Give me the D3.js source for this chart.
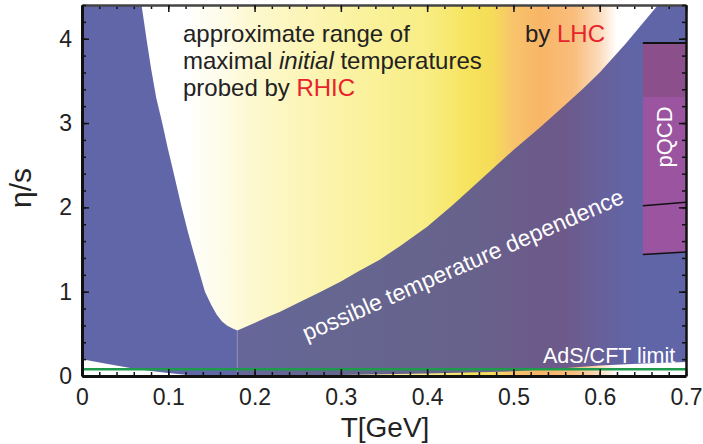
<!DOCTYPE html>
<html><head><meta charset="utf-8">
<script src="https://cdn.jsdelivr.net/npm/d3@7"></script>
<style>
body{margin:0;background:#fff;}
svg{display:block;}
text{font-family:"Liberation Sans",Arial,sans-serif;}
</style></head>
<body><svg id="c" width="703" height="444"></svg>
<script>
// ---- data ----
const upperT   = [0, 0.069, 0.075, 0.08, 0.086, 0.093, 0.099, 0.105, 0.1155, 0.123, 0.13, 0.1425, 0.15, 0.156, 0.162, 0.168, 0.174, 0.18, 0.19, 0.2, 0.215, 0.229, 0.253, 0.275, 0.3, 0.32, 0.345, 0.37, 0.4, 0.43, 0.461, 0.5, 0.53, 0.554, 0.58, 0.6, 0.63, 0.6675, 0.7];
const upperEta = [4.4, 4.4, 3.98, 3.65, 3.3, 3.0, 2.72, 2.46, 2.0, 1.7, 1.44, 1.0, 0.84, 0.73, 0.65, 0.6, 0.565, 0.54, 0.585, 0.63, 0.7, 0.76, 0.88, 0.99, 1.12, 1.24, 1.38, 1.55, 1.77, 2.03, 2.32, 2.68, 2.94, 3.16, 3.4, 3.6, 3.94, 4.4, 4.4];
const lowerT   = [0, 0.025, 0.056, 0.08, 0.1, 0.12, 0.145, 0.25, 0.3, 0.4, 0.5, 0.55, 0.6, 0.65, 0.7];
const lowerEta = [0.2, 0.15, 0.095, 0.06, 0.035, 0.015, 0, 0, 0.012, 0.03, 0.055, 0.085, 0.125, 0.148, 0.165];
const adsLimit = 1 / (4 * Math.PI);
const minT = 0.18, minEta = 0.54;
const pqcdT   = [0.65, 0.7];
const pqcdTop = [3.95, 3.95];
const pqcdDark = [3.31, 3.31];
const pqcdMid = [2.02, 2.06];
const pqcdLow = [1.44, 1.47];
const xTicks = [0, 0.1, 0.2, 0.3, 0.4, 0.5, 0.6, 0.7];
const xTickLabels = ["0", "0.1", "0.2", "0.3", "0.4", "0.5", "0.6", "0.7"];
const yTicks = [0, 1, 2, 3, 4];
const yTickLabels = ["0", "1", "2", "3", "4"];
const xMinor = d3.range(0, 0.7001, 0.02);
const yMinor = d3.range(0, 4.4001, 0.2);
// colour stops (T position, colour)
const overlayStops = [[0,"#ffffff"],[0.12,"#ffffff"],[0.16,"#fefcea"],[0.2,"#fdf8cf"],[0.3,"#fbf3a6"],[0.4,"#f8ed84"],[0.45,"#f6e35c"],[0.475,"#f5dc58"],[0.5,"#f8c46c"],[0.53,"#f8b566"],[0.57,"#f9bd7c"],[0.6,"#fcdcbc"],[0.62,"#ffffff"],[0.7,"#ffffff"]];
const bandStops = [[0,"#6166a8"],[0.1799,"#6166a8"],[0.1801,"#66669a"],[0.3,"#666690"],[0.45,"#67628c"],[0.53,"#6c5a8a"],[0.56,"#6d5a8b"],[0.6,"#67609a"],[0.64,"#6065a8"],[0.7,"#6065a8"]];

// ---- layout ----
const svg = d3.select("#c");
const L = 82, R = 686, Tp = 5, B = 376;
const x = d3.scaleLinear().domain([0, 0.7]).range([L, R]);
const y = d3.scaleLinear().domain([0, 4.4]).range([B, Tp]);

const defs = svg.append("defs");
defs.append("clipPath").attr("id","clip").append("rect")
  .attr("x",L).attr("y",Tp).attr("width",R-L).attr("height",B-Tp);
function grad(id, stops){
  const g = defs.append("linearGradient").attr("id",id)
    .attr("gradientUnits","userSpaceOnUse")
    .attr("x1",x(0)).attr("x2",x(0.7)).attr("y1",0).attr("y2",0);
  stops.forEach(s=>g.append("stop").attr("offset",s[0]/0.7).attr("stop-color",s[1]));
}
grad("ov", overlayStops);
grad("band", bandStops);

const plot = svg.append("g").attr("clip-path","url(#clip)");
plot.append("rect").attr("x",x(0)).attr("y",y(4.4)).attr("width",x(0.7)-x(0)).attr("height",y(0)-y(4.4)).attr("fill","url(#ov)");

const upperPts = upperT.map((t,i)=>[t, upperEta[i]]);
const lowerPts = lowerT.map((t,i)=>[t, lowerEta[i]]).reverse();
const line = d3.line().x(d=>x(d[0])).y(d=>y(d[1]));
plot.append("path").attr("d", line(upperPts.concat(lowerPts)) + "Z").attr("fill","url(#band)");

// vertical guide at minimum
plot.append("line").attr("x1",x(minT)).attr("x2",x(minT)).attr("y1",y(minEta)).attr("y2",y(0))
  .attr("stroke","rgba(255,255,255,0.3)").attr("stroke-width",1);

// AdS/CFT line
plot.append("line").attr("x1",x(0)).attr("x2",x(0.7)).attr("y1",y(adsLimit)).attr("y2",y(adsLimit))
  .attr("stroke","#1f9a4c").attr("stroke-width",2.5);

// pQCD box
const pq = pqcdT.map((t,i)=>({t, top:pqcdTop[i], dark:pqcdDark[i], mid:pqcdMid[i], low:pqcdLow[i]}));
const area = (a,b)=>d3.area().x(d=>x(d.t)).y0(d=>y(d[a])).y1(d=>y(d[b]));
plot.append("path").attr("d", area("low","dark")(pq)).attr("fill","#9b55a0");
plot.append("path").attr("d", area("dark","top")(pq)).attr("fill","#8b4f8b");
["top","mid","low"].forEach(k=>{
  plot.append("path").attr("d", d3.line().x(d=>x(d.t)).y(d=>y(d[k]))(pq))
    .attr("stroke","#111").attr("stroke-width", k==="top"?2:1.5).attr("fill","none");
});

// ---- axes ----
function styleAxis(g, w, col){
  g.select(".domain").attr("stroke", col).attr("stroke-width", w);
  g.selectAll(".tick line").attr("stroke","#111").attr("stroke-width",1.5);
}
// bottom
const gxm = svg.append("g").attr("transform",`translate(0,${B})`)
  .call(d3.axisBottom(x).tickValues(xMinor).tickSize(-4).tickFormat(""));
gxm.select(".domain").remove(); gxm.selectAll(".tick line").attr("stroke","#111").attr("stroke-width",1.5);
const gx = svg.append("g").attr("transform",`translate(0,${B})`)
  .call(d3.axisBottom(x).tickValues(xTicks).tickSize(-7).tickSizeOuter(0).tickPadding(13)
    .tickFormat((d,i)=>xTickLabels[i]));
styleAxis(gx, 3, "#111");
gx.selectAll("text").attr("font-size",23).attr("fill","#222").attr("font-family","Liberation Sans, Arial, sans-serif");
// top
const gtm = svg.append("g").attr("transform",`translate(0,${Tp})`)
  .call(d3.axisTop(x).tickValues(xMinor).tickSize(-4).tickFormat(""));
gtm.select(".domain").remove(); gtm.selectAll(".tick line").attr("stroke","#111").attr("stroke-width",1.5);
const gt = svg.append("g").attr("transform",`translate(0,${Tp})`)
  .call(d3.axisTop(x).tickValues(xTicks).tickSize(-7).tickSizeOuter(0).tickFormat(""));
styleAxis(gt, 2.5, "#444");
// left
const gym = svg.append("g").attr("transform",`translate(${L},0)`)
  .call(d3.axisLeft(y).tickValues(yMinor).tickSize(-4).tickFormat(""));
gym.select(".domain").remove(); gym.selectAll(".tick line").attr("stroke","#111").attr("stroke-width",1.5);
const gy = svg.append("g").attr("transform",`translate(${L},0)`)
  .call(d3.axisLeft(y).tickValues(yTicks).tickSize(-7).tickSizeOuter(0).tickPadding(10)
    .tickFormat((d,i)=>yTickLabels[i]));
styleAxis(gy, 3, "#111");
gy.selectAll("text").attr("font-size",23).attr("fill","#222").attr("font-family","Liberation Sans, Arial, sans-serif");
// right
const grm = svg.append("g").attr("transform",`translate(${R},0)`)
  .call(d3.axisRight(y).tickValues(yMinor).tickSize(-4).tickFormat(""));
grm.select(".domain").remove(); grm.selectAll(".tick line").attr("stroke","#111").attr("stroke-width",1.5);
const gr = svg.append("g").attr("transform",`translate(${R},0)`)
  .call(d3.axisRight(y).tickValues(yTicks).tickSize(-7).tickSizeOuter(0).tickFormat(""));
styleAxis(gr, 2.5, "#111");

// axis titles
svg.append("text").attr("x",385).attr("y",437).attr("text-anchor","middle")
  .attr("font-size",28).attr("fill","#222").text("T[GeV]");
svg.append("text").attr("transform","translate(31,188) rotate(-90)").attr("text-anchor","middle")
  .attr("font-size",30).attr("fill","#222").text("η/s");

// annotations
const ann = svg.append("g").attr("font-size",24).attr("fill","#222");
ann.append("text").attr("x",183).attr("y",42).text("approximate range of");
const l2 = ann.append("text").attr("x",183).attr("y",69);
l2.append("tspan").text("maximal ");
l2.append("tspan").attr("font-style","italic").text("initial");
l2.append("tspan").text(" temperatures");
const l3 = ann.append("text").attr("x",183).attr("y",96);
l3.append("tspan").text("probed by ");
l3.append("tspan").attr("fill","#e8232b").text("RHIC");
const l4 = ann.append("text").attr("x",525).attr("y",42);
l4.append("tspan").text("by ");
l4.append("tspan").attr("fill","#e8232b").text("LHC");

svg.append("text").attr("transform","translate(672,137) rotate(-90)").attr("text-anchor","middle")
  .attr("font-size",22).attr("fill","#fff").text("pQCD");
svg.append("text").attr("transform","translate(466,272) rotate(-23.5)").attr("text-anchor","middle")
  .attr("font-size",23).attr("fill","#fff").text("possible temperature dependence");
svg.append("text").attr("x",543).attr("y",363).attr("font-family","'Open Sans', sans-serif")
  .attr("font-size",21.5).attr("fill","#fff").text("AdS/CFT limit");
</script></body></html>
